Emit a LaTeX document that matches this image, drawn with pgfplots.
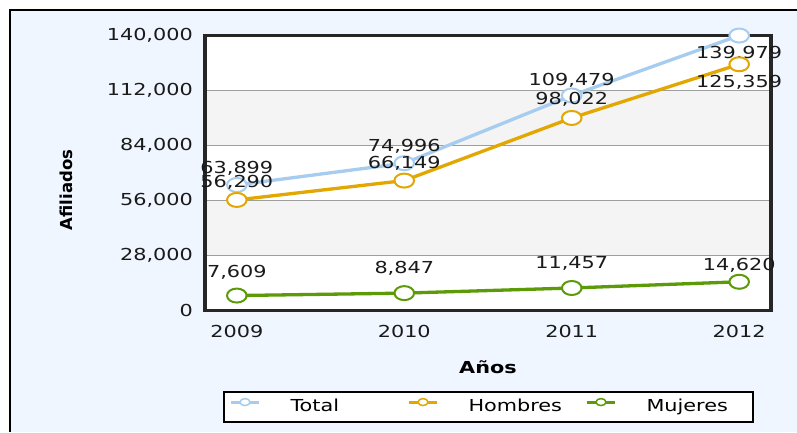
\documentclass[border=0pt]{standalone}
\usepackage{fontspec}
\setmainfont[FakeStretch=1.26]{DejaVu Sans}
\newfontfamily\ylfont{DejaVu Sans}
\usepackage{pgfplots}
\pgfplotsset{compat=1.18}
\usepackage{pgfplotstable}

\definecolor{framebg}{HTML}{F0F6FF}
\definecolor{band}{HTML}{F4F4F4}
\definecolor{total}{HTML}{A6CDEF}
\definecolor{hombres}{HTML}{E2A700}
\definecolor{mujeres}{HTML}{5C9A08}
\definecolor{txt}{HTML}{1A1A1A}

% x = year index (0 = 2009), dy = label baseline shift in pt
\pgfplotstableread{
x y dy
0 63899 11.5
1 74996 11.7
2 109479 10
3 139979 -23
}\totaltab
\pgfplotstableread{
x y dy
0 56290 12.4
1 66149 12
2 98022 13.5
3 125359 -23
}\hombrestab
\pgfplotstableread{
x y dy
0 7609 18
1 8847 19.6
2 11457 19.5
3 14620 11
}\mujerestab

\pgfplotsset{
  serie/.style={
    #1, line width=3.3pt, mark=*, mark size=7pt,
    mark options={xscale=1.4, fill=white, draw=#1, line width=2pt},
    nodes near coords={\pgfmathprintnumber[fixed,precision=0,1000 sep={,},assume math mode=true]{\pgfplotspointmeta}},
    visualization depends on={\thisrow{dy} \as \dy},
    every node near coord/.append style={anchor=base, yshift=\dy pt, text=txt, inner sep=0pt},
    legend image code/.code={
      \draw[#1, line width=3pt] (0pt,5pt) -- (28pt,5pt);
      \draw[#1, line width=1.5pt, fill=white] (14pt,5pt) ellipse (5pt and 3.5pt);
    },
  },
}

\begin{document}
\fontsize{16.5}{19.8}\selectfont
\begin{tikzpicture}
\useasboundingbox (0,0) rectangle (797pt,432pt);
\fill[white] (0,0) rectangle (797pt,432pt);
\fill[framebg] (10pt,0) rectangle (797pt,422pt);
\draw[line width=2pt] (10pt,0) -- (10pt,422pt) -- (797pt,422pt);
% plot area with alternating bands
\fill[white] (205pt,121.5pt) rectangle (771pt,396.5pt);
\fill[band] (205pt,176.5pt) rectangle (771pt,231.5pt);
\fill[band] (205pt,286.5pt) rectangle (771pt,341.5pt);
\begin{axis}[
  at={(205pt,121.5pt)}, anchor=south west,
  width=566pt, height=275pt, scale only axis,
  xmin=-0.19, xmax=3.19, ymin=0, ymax=140000,
  xtick={0,1,2,3}, xticklabels={2009,2010,2011,2012},
  ytick={0,28000,56000,84000,112000,140000},
  scaled y ticks=false,
  yticklabel={\pgfmathprintnumber[fixed,precision=0,1000 sep={,},assume math mode=true]{\tick}},
  ymajorgrids,
  major grid style={line width=1.2pt, color=black!38},
  major tick length=0pt,
  axis line style={line width=3.5pt, black!85},
  tick label style={text=txt},
  yticklabel style={xshift=-6.5pt},
  xticklabel style={yshift=-9pt},
  xlabel={\bfseries Años},
  xlabel style={at={(axis description cs:0.5,-0.2055)}, anchor=center},
  ylabel={\ylfont\bfseries Afiliados},
  ylabel style={at={(axis description cs:-0.2456,0.438)}, anchor=center},
  legend columns=3,
  legend style={
    at={(axis description cs:0.5,-0.293)}, anchor=north,
    draw=black, line width=2pt, fill=white,
    inner xsep=6pt, inner ysep=0pt,
    /tikz/every odd column/.append style={column sep=30pt},
    /tikz/every even column/.append style={column sep=17pt,
      nodes={text width=100pt, align=left, inner xsep=0pt, inner ysep=7pt,
             text height=12.5pt, text depth=3.5pt}},
  },
]
\addplot[serie=total] table[x=x, y=y] {\totaltab};
\addlegendentry{Total}
\addplot[serie=hombres] table[x=x, y=y] {\hombrestab};
\addlegendentry{Hombres}
\addplot[serie=mujeres] table[x=x, y=y] {\mujerestab};
\addlegendentry{Mujeres}
\end{axis}
\end{tikzpicture}
\end{document}
